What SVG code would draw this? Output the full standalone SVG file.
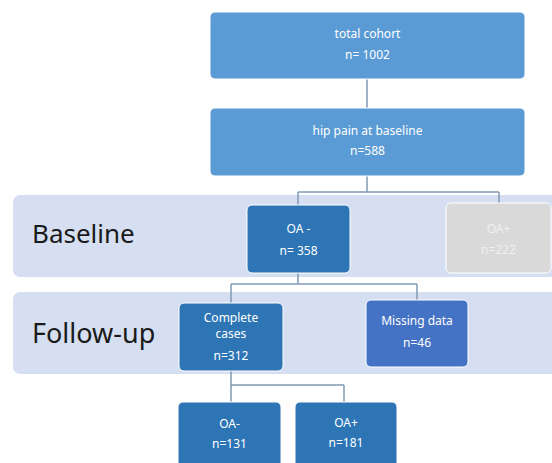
<svg xmlns="http://www.w3.org/2000/svg" width="552" height="463" viewBox="0 0 552 463">
<style>
.band{fill:#d5dff1;}
.box{stroke:#ffffff;stroke-width:1;}
.light{fill:#5b9bd5;}
.dark{fill:#2e75b6;}
.mid{fill:#4472c4;}
.grey{fill:#d9d9d9;}
.t{font-family:"Noto Sans","Open Sans",sans-serif;font-size:12px;fill:#ffffff;text-anchor:middle;}
.tg{fill:#f0f0f0;}
.big{font-family:"Noto Sans","Open Sans",sans-serif;fill:#1a1a1a;}
.conn{fill:none;stroke:#8199b4;stroke-width:1.5;}
</style>
<g id="bands">
<rect class="band" x="13" y="195" width="560" height="82" rx="7"/>
<rect class="band" x="13" y="292" width="560" height="82" rx="7"/>
<text class="big" x="32" y="243" font-size="26">Baseline</text>
<text class="big" x="32" y="343" font-size="27">Follow-up</text>
</g>
<g id="connectors">
<path class="conn" d="M367 79V108"/>
<path class="conn" d="M367 176V192M298 192H499M298 192V205M499 192V203"/>
<path class="conn" d="M298 273V284M231 284H417M231 284V303M417 284V300"/>
<path class="conn" d="M231 371V385H344M231 385V402M344 385V402"/>
</g>
<g id="total">
<rect class="box light" x="210" y="12" width="315" height="67" rx="5"/>
<text class="t" x="367.5" y="38">total cohort</text>
<text class="t" x="367.5" y="59">n= 1002</text>
</g>
<g id="hip">
<rect class="box light" x="210" y="108" width="315" height="68" rx="5"/>
<text class="t" x="367.5" y="135">hip pain at baseline</text>
<text class="t" x="367.5" y="155">n=588</text>
</g>
<g id="oaneg">
<rect class="box dark" x="247" y="205" width="103" height="68" rx="5"/>
<text class="t" x="298.5" y="233">OA -</text>
<text class="t" x="298.5" y="255">n= 358</text>
</g>
<g id="oapos">
<rect class="box grey" x="446" y="203" width="105" height="70" rx="5"/>
<text class="t tg" x="498.5" y="233">OA+</text>
<text class="t tg" x="498.5" y="254">n=222</text>
</g>
<g id="complete">
<rect class="box dark" x="179" y="303" width="104" height="68" rx="5"/>
<text class="t" x="231" y="322">Complete</text>
<text class="t" x="231" y="338">cases</text>
<text class="t" x="231" y="360">n=312</text>
</g>
<g id="missing">
<rect class="box mid" x="366" y="300" width="102" height="67" rx="5"/>
<text class="t" x="417" y="325">Missing data</text>
<text class="t" x="417" y="347">n=46</text>
</g>
<g id="fneg">
<rect class="box dark" x="178" y="402" width="103" height="70" rx="5"/>
<text class="t" x="229.5" y="428">OA-</text>
<text class="t" x="229.5" y="448">n=131</text>
</g>
<g id="fpos">
<rect class="box dark" x="295" y="402" width="102" height="70" rx="5"/>
<text class="t" x="346" y="427">OA+</text>
<text class="t" x="346" y="447">n=181</text>
</g>
</svg>
